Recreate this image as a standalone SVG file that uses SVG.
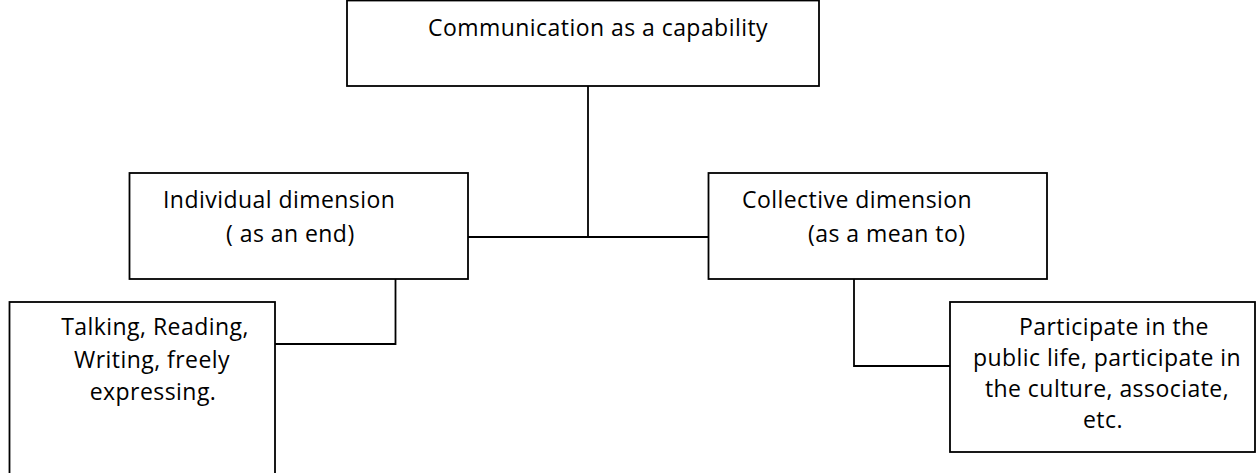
<svg xmlns="http://www.w3.org/2000/svg" width="1256" height="473" viewBox="0 0 1256 473">
<style>
.box{fill:#fff;stroke:#000;stroke-width:1.8}
.con{fill:none;stroke:#000;stroke-width:1.8}
text{font-family:"Open Sans","Noto Sans",sans-serif;font-size:23px;letter-spacing:0.45px;fill:#000}
.c{text-anchor:middle}
</style>
<rect width="1256" height="473" fill="#fff"/>
<g id="connectors">
<line class="con" x1="588" y1="86" x2="588" y2="237"/>
<line class="con" x1="468" y1="237" x2="708" y2="237"/>
<polyline class="con" points="395.5,279 395.5,344 275,344"/>
<polyline class="con" points="854,279 854,366 950,366"/>
</g>
<g id="node-top">
<rect class="box" x="347" y="0.5" width="472" height="85.5"/>
<text x="428" y="36">Communication as a capability</text>
</g>
<g id="node-individual">
<rect class="box" x="129.5" y="173" width="338.5" height="106"/>
<text x="163" y="208">Individual dimension</text>
<text x="226" y="242">( as an end)</text>
</g>
<g id="node-collective">
<rect class="box" x="708.5" y="173" width="338.5" height="106"/>
<text x="742" y="208">Collective dimension</text>
<text x="808" y="242">(as a mean to)</text>
</g>
<g id="node-talking">
<rect class="box" x="9.5" y="302" width="265.5" height="180"/>
<text class="c" x="155" y="335">Talking, Reading,</text>
<text class="c" x="152" y="368">Writing, freely</text>
<text class="c" x="153" y="400">expressing.</text>
</g>
<g id="node-participate">
<rect class="box" x="950" y="302" width="305" height="150"/>
<text class="c" x="1114" y="335">Participate in the</text>
<text class="c" x="1107" y="366">public life, participate in</text>
<text class="c" x="1107" y="397">the culture, associate,</text>
<text class="c" x="1103" y="428">etc.</text>
</g>
</svg>
